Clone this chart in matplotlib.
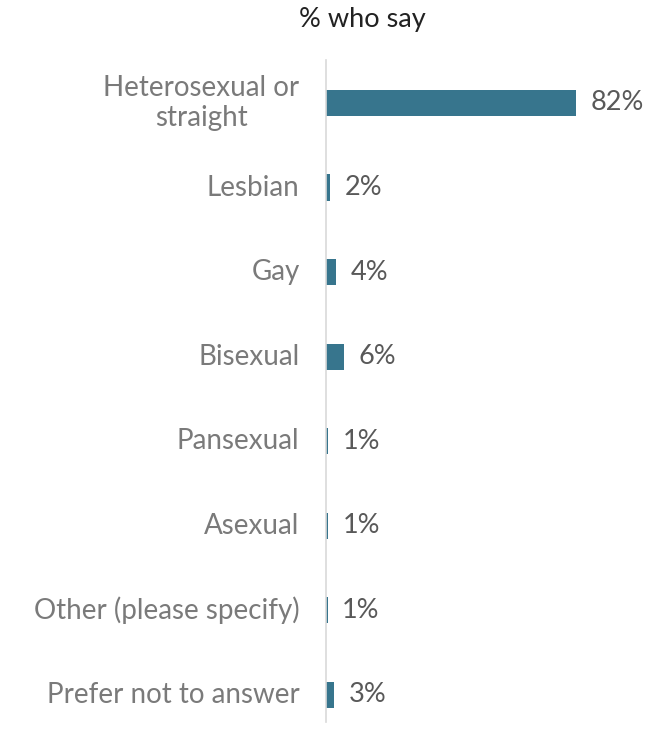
import matplotlib.pyplot as plt
from matplotlib import font_manager

categories = ["Heterosexual or\nstraight", "Lesbian", "Gay", "Bisexual",
              "Pansexual", "Asexual", "Other (please specify)",
              "Prefer not to answer"]
# bar lengths (labels are the rounded figures shown)
values = [82.0, 1.4, 3.4, 5.9, 0.6, 0.6, 0.5, 2.6]
value_labels = ["82%", "2%", "4%", "6%", "1%", "1%", "1%", "3%"]

names = {f.name for f in font_manager.fontManager.ttflist}
family = "Lato" if "Lato" in names else "DejaVu Sans"
plt.rcParams["font.family"] = [family, "DejaVu Sans"]

bar_color = "#37758d"
label_color = "#7a7a7a"
value_color = "#595959"

fig = plt.figure(figsize=(6.54, 7.34), dpi=100)
ax = fig.add_axes([326 / 654, 1 - 722 / 734, 1 - 326 / 654, (722 - 60) / 734])

y = list(range(len(categories)))
ax.barh(y, values, height=0.31, color=bar_color, edgecolor="none")

for yi, v, lab in zip(y, values, value_labels):
    ax.annotate(lab, xy=(v, yi), xytext=(10.5, 0), textcoords="offset points",
                ha="left", va="center", fontsize=19.5, color=value_color)

for yi, cat in zip(y, categories):
    ax.annotate(cat, xy=(0, yi), xytext=(-19, 0), textcoords="offset points",
                ha="right", va="center", multialignment="center",
                fontsize=20, color=label_color,
                linespacing=1.15, annotation_clip=False)

ax.set_xlim(0, 107.5)
ax.set_ylim(7.32, -0.508)
ax.set_xticks([])
ax.set_yticks([])
for s in ["top", "right", "bottom"]:
    ax.spines[s].set_visible(False)
ax.spines["left"].set_color("#d9d9d9")
ax.spines["left"].set_linewidth(1.2)

fig.text(362 / 654, 1 - 20 / 734, "% who say", ha="center", va="center",
         fontsize=19.5, color="#222222")

fig.savefig("out.png", dpi=100)
